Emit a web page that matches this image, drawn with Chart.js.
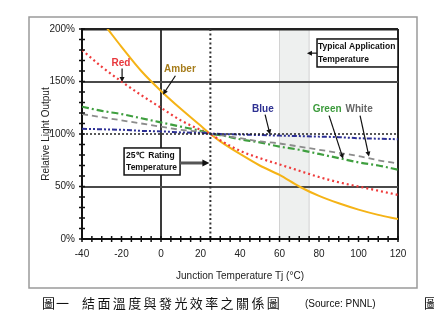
<!DOCTYPE html>
<html>
<head>
<meta charset="utf-8">
<script src="https://cdn.jsdelivr.net/npm/chart.js@4.4.0/dist/chart.umd.min.js"></script>
<style>
  html, body { margin: 0; padding: 0; background: #fff; }
  #wrap { width: 434px; height: 329px; }
</style>
</head>
<body>
<div id="wrap"><canvas id="lineChart" width="434" height="329"></canvas></div>
<script>
// Junction temperature (°C) sample points, shared by every curve
const temps = [-40, -30, -20, -10, 0, 10, 20, 25, 30, 40, 50, 60, 70, 80, 90, 100, 110, 120];

// Relative light output (%)
const amber = [228, 207, 183, 160, 141, 124, 108, 100, 93, 81, 70, 61, 50, 41, 34, 28, 23, 19];
const red   = [180, 164, 150, 137, 125, 113, 104, 100, 94, 84, 77, 71, 65, 59, 54, 50, 46, 42];
const green = [126, 122, 119, 115, 111, 107, 103, 100, 99, 95, 92, 88, 85, 81, 77, 73, 70, 66];
const white = [119, 116, 113, 110, 107, 104, 102, 100, 99, 96, 93, 91, 88, 85, 82, 79, 75, 72];
const blue  = [105, 104.5, 104, 103, 102.5, 101.5, 101, 100.5, 100, 99.5, 99, 98.5, 98, 97.5, 97, 96, 95.5, 95];

// Axis ticks
const xTicks = [-40, -20, 0, 20, 40, 60, 80, 100, 120];
const yTicks = [0, 50, 100, 150, 200];

// Reference values
const ratingTemp = 25;
const appBand = [60, 75];
const refLevel = 100;

const FONT = "'Liberation Sans', Arial, sans-serif";

const toPoints = vals => temps.map((t, i) => ({ x: t, y: vals[i] }));

// little arrow helper
function arrow(ctx, x1, y1, x2, y2, w, head, shaft, tip) {
    const a = Math.atan2(y2 - y1, x2 - x1);
    ctx.save();
    ctx.strokeStyle = shaft;
    ctx.lineWidth = w;
    ctx.beginPath();
    ctx.moveTo(x1, y1);
    ctx.lineTo(x2 - head * 0.8 * Math.cos(a), y2 - head * 0.8 * Math.sin(a));
    ctx.stroke();
    ctx.fillStyle = tip;
    ctx.beginPath();
    ctx.moveTo(x2, y2);
    ctx.lineTo(x2 - head * Math.cos(a) + head * 0.5 * Math.sin(a), y2 - head * Math.sin(a) - head * 0.5 * Math.cos(a));
    ctx.lineTo(x2 - head * Math.cos(a) - head * 0.5 * Math.sin(a), y2 - head * Math.sin(a) + head * 0.5 * Math.cos(a));
    ctx.closePath();
    ctx.fill();
    ctx.restore();
}

// curve name labels with arrows (data coordinates)
const curveNotes = [
    { text: 'Red',   color: '#e8383d', at: [-20.3, 167.6], from: [-19.7, 162.5], to: [-19.7, 149.5] },
    { text: 'Amber', color: '#a67c1a', at: [9.6, 161.4],   from: [7.3, 155.5],   to: [1.0, 137.5] },
    { text: 'Blue',  color: '#2e3192', at: [51.6, 123.8],  from: [52.7, 118.5],  to: [55.2, 99.5] },
    { text: 'Green', color: '#3c9b3c', at: [84.1, 123.8],  from: [85.1, 117.5],  to: [92.2, 76.5] },
    { text: 'White', color: '#666666', at: [100.3, 123.8], from: [100.8, 117.5], to: [105.3, 78.5] }
];

const decor = {
    id: 'decor',
    beforeDraw(chart) {
        const { ctx, chartArea: ca, scales: { x, y } } = chart;
        ctx.save();
        ctx.fillStyle = '#ffffff';
        ctx.fillRect(0, 0, chart.width, chart.height);
        // outer frame
        ctx.strokeStyle = '#9a9a9a';
        ctx.lineWidth = 1.5;
        ctx.strokeRect(29, 17, 388, 271);
        // typical application band
        const b1 = x.getPixelForValue(appBand[0]);
        const b2 = x.getPixelForValue(appBand[1]);
        ctx.fillStyle = '#eef0ef';
        ctx.fillRect(b1, ca.top, b2 - b1, ca.bottom - ca.top);
        ctx.strokeStyle = '#d2d2d2';
        ctx.lineWidth = 1;
        ctx.beginPath();
        ctx.moveTo(b1, ca.top); ctx.lineTo(b1, ca.bottom);
        ctx.moveTo(b2, ca.top); ctx.lineTo(b2, ca.bottom);
        ctx.stroke();
        ctx.restore();
    },
    beforeDatasetsDraw(chart) {
        const { ctx, chartArea: ca, scales: { x } } = chart;
        const px = x.getPixelForValue(ratingTemp);
        ctx.save();
        ctx.strokeStyle = '#333';
        ctx.lineWidth = 2;
        ctx.setLineDash([2, 2.5]);
        ctx.beginPath();
        ctx.moveTo(px, ca.top); ctx.lineTo(px, ca.bottom);
        ctx.stroke();
        ctx.restore();
    },
    afterDatasetsDraw(chart) {
        const { ctx, chartArea: ca, scales: { x, y } } = chart;
        ctx.save();
        // 100% dotted reference
        const py = y.getPixelForValue(refLevel);
        ctx.strokeStyle = '#222';
        ctx.lineWidth = 1.5;
        ctx.setLineDash([2, 2]);
        ctx.beginPath();
        ctx.moveTo(ca.left, py); ctx.lineTo(ca.right, py);
        ctx.stroke();
        ctx.setLineDash([]);

        // minor ticks on both axes
        ctx.strokeStyle = '#111';
        ctx.lineWidth = 1.5;
        ctx.beginPath();
        for (let v = 0; v <= 200; v += 10) {
            const yy = y.getPixelForValue(v);
            ctx.moveTo(ca.left - 3, yy); ctx.lineTo(ca.left + 3, yy);
        }
        for (let t = -40; t <= 120; t += 5) {
            const xx = x.getPixelForValue(t);
            ctx.moveTo(xx, ca.bottom - 3); ctx.lineTo(xx, ca.bottom + 3);
        }
        ctx.stroke();

        // curve labels
        ctx.font = "bold 10px 'Liberation Sans Narrow', 'Liberation Sans', sans-serif";
        ctx.textAlign = 'center';
        ctx.textBaseline = 'middle';
        curveNotes.forEach(n => {
            ctx.fillStyle = n.color;
            ctx.fillText(n.text, x.getPixelForValue(n.at[0]), y.getPixelForValue(n.at[1]));
            arrow(ctx, x.getPixelForValue(n.from[0]), y.getPixelForValue(n.from[1]),
                  x.getPixelForValue(n.to[0]), y.getPixelForValue(n.to[1]), 1.2, 5, '#111', '#111');
        });

        // 25℃ rating box
        const rx = x.getPixelForValue(-18.7), ry = y.getPixelForValue(86.7);
        ctx.fillStyle = '#fff';
        ctx.fillRect(rx, ry, 56, 27);
        ctx.strokeStyle = '#111';
        ctx.lineWidth = 1.5;
        ctx.strokeRect(rx, ry, 56, 27);
        ctx.fillStyle = '#111';
        ctx.textAlign = 'left';
        ctx.font = "bold 8.5px " + FONT;
        ctx.fillText('25\u2103  Rating', rx + 2, ry + 8);
        ctx.fillText('Temperature', rx + 2, ry + 20);
        const ay = y.getPixelForValue(72.4);
        arrow(ctx, rx + 56, ay, x.getPixelForValue(ratingTemp) - 1, ay, 3, 7, '#555', '#111');

        // typical application box
        const tx = x.getPixelForValue(79), ty = y.getPixelForValue(190.5);
        const tw = ca.right - tx;
        ctx.fillStyle = '#fff';
        ctx.fillRect(tx, ty, tw, 28);
        ctx.strokeStyle = '#111';
        ctx.lineWidth = 1.5;
        ctx.strokeRect(tx, ty, tw, 28);
        ctx.fillStyle = '#111';
        ctx.fillText('Typical Application', tx + 1, ty + 8);
        ctx.fillText('Temperature', tx + 1, ty + 21);
        const ty2 = y.getPixelForValue(177);
        arrow(ctx, tx, ty2, x.getPixelForValue(73.9), ty2, 1.2, 5, '#111', '#111');
        ctx.restore();
    },
    afterDraw(chart) {
        const { ctx } = chart;
        ctx.save();
        ctx.fillStyle = '#111';
        ctx.textBaseline = 'middle';
        ctx.textAlign = 'left';
        ctx.font = "13px 'Noto Sans CJK TC', sans-serif";
        ctx.fillText('圖', 42, 303.5);
        ctx.fillText('一', 56, 303.5);
        const cap = '結面溫度與發光效率之關係圖';
        for (let i = 0; i < cap.length; i++) {
            ctx.fillText(cap[i], 82 + i * 15.4, 303.5);
        }
        ctx.fillText('圖', 424, 303.5);
        ctx.font = "10px " + FONT;
        ctx.fillText('(Source: PNNL)', 305, 304.5);
        ctx.restore();
    }
};

const createLightChart = () => {
    const ctx = document.getElementById('lineChart').getContext('2d');
    const common = { fill: false, pointRadius: 0, cubicInterpolationMode: 'monotone' };

    new Chart(ctx, {
        type: 'line',
        data: {
            datasets: [
                { ...common, label: 'Blue', data: toPoints(blue), borderColor: '#2c2f95', borderWidth: 2, borderDash: [5, 2, 2, 2, 2, 2] },
                { ...common, label: 'White', data: toPoints(white), borderColor: '#8c8c8c', borderWidth: 1.8, borderDash: [6, 4] },
                { ...common, label: 'Green', data: toPoints(green), borderColor: '#3f9f3f', borderWidth: 2.2, borderDash: [7, 3, 2, 3] },
                { ...common, label: 'Red', data: toPoints(red), borderColor: '#ef3b3b', borderWidth: 2.2, borderDash: [2, 3] },
                { ...common, label: 'Amber', data: toPoints(amber), borderColor: '#f5b316', borderWidth: 2 }
            ]
        },
        options: {
            responsive: false,
            animation: false,
            layout: { padding: { left: 40, right: 36, top: 29, bottom: 47 } },
            plugins: {
                legend: { display: false },
                tooltip: { enabled: false }
            },
            scales: {
                x: {
                    type: 'linear',
                    min: -40,
                    max: 120,
                    afterFit: s => { s.height = 43; },
                    afterBuildTicks: s => { s.ticks = xTicks.map(v => ({ value: v })); },
                    ticks: { padding: 9, color: '#222', maxRotation: 0, font: { family: FONT, size: 10 } },
                    grid: {
                        drawTicks: false,
                        lineWidth: 2,
                        color: c => c.tick && c.tick.value === 0 ? '#3a3a3a' : (c.tick && c.tick.value === 120 ? '#222' : 'rgba(0,0,0,0)')
                    },
                    border: { color: '#111', width: 2 },
                    title: { display: true, text: 'Junction Temperature Tj (°C)', color: '#222', padding: 0, font: { family: FONT, size: 10 } }
                },
                y: {
                    min: 0,
                    max: 200,
                    afterFit: s => { s.width = 42; },
                    afterBuildTicks: s => { s.ticks = yTicks.map(v => ({ value: v })); },
                    ticks: { padding: 7, color: '#222', font: { family: FONT, size: 10 }, callback: v => v + '%' },
                    grid: {
                        drawTicks: false,
                        lineWidth: c => c.tick && c.tick.value === 200 ? 2.5 : 2,
                        color: c => {
                            const v = c.tick && c.tick.value;
                            if (v === 50 || v === 150) return '#4a4a4a';
                            if (v === 200) return '#222';
                            return 'rgba(0,0,0,0)';
                        }
                    },
                    border: { color: '#111', width: 2 },
                    title: { display: true, text: 'Relative Light Output', color: '#222', padding: 0, font: { family: FONT, size: 10 } }
                }
            }
        },
        plugins: [decor]
    });
};

document.addEventListener('DOMContentLoaded', function() {
    createLightChart();
});
</script>
</body>
</html>
